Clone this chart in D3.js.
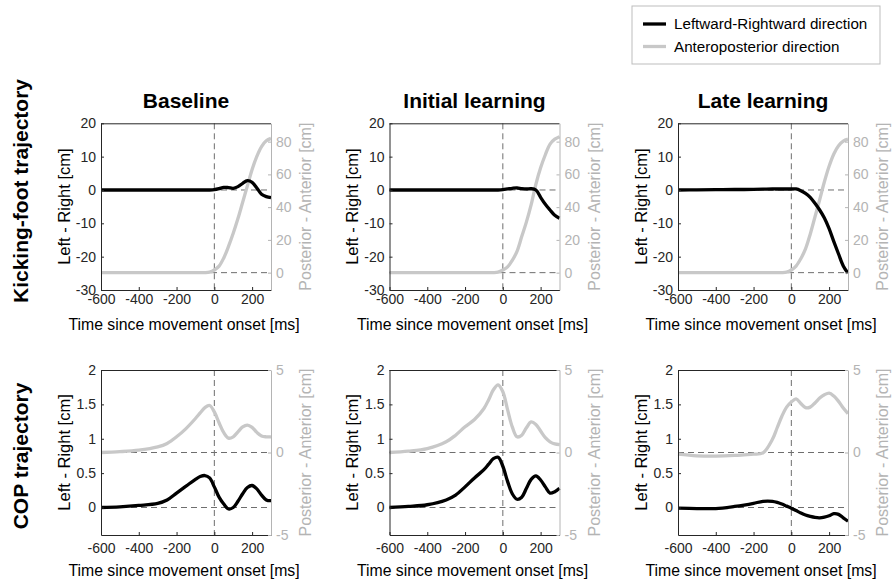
<!DOCTYPE html>
<html>
<head>
<meta charset="utf-8">
<script src="https://cdn.jsdelivr.net/npm/d3@7/dist/d3.min.js"></script>
<style>
  html, body { margin: 0; padding: 0; background: #fff; }
  svg { display: block; }
</style>
</head>
<body>
<script>
// ---- data -------------------------------------------------------------
const conditions = ["Baseline", "Initial learning", "Late learning"];
const rowLabels = ["Kicking-foot trajectory", "COP trajectory"];
const legendLabels = ["Leftward-Rightward direction", "Anteroposterior direction"];

const timeMs = [-600, -500, -400, -300, -250, -200, -150, -100, -75, -50, -25, 0,
                25, 50, 75, 100, 125, 150, 175, 200, 225, 250, 275, 300];

// Kicking foot, left-right [cm]
const kickLrBaseline = [0, 0, 0, 0, 0, 0, 0, 0, 0, 0, 0, 0.1,
                        0.4, 0.8, 0.7, 0.5, 1.0, 2.0, 2.8, 2.3, 0.6, -1.3, -2.0, -2.3];
const kickLrInitial  = [0, 0, 0, 0, 0, 0, 0, 0, 0, 0, 0, 0.1,
                        0.3, 0.5, 0.6, 0.4, 0.3, 0.4, 0.0, -2.2, -4.3, -6.0, -7.6, -8.5];
const kickLrLate     = [0, 0.05, 0.1, 0.15, 0.15, 0.2, 0.25, 0.3, 0.3, 0.3, 0.3, 0.3,
                        0.3, -0.2, -1.0, -2.2, -4.0, -6.0, -8.4, -11.6, -15.5, -19.2, -22.8, -25];
// Kicking foot, posterior-anterior [cm]
const kickApBaseline = [0, 0, 0, 0, 0, 0, 0, 0, 0, 0, 0.3, 1.6,
                        4, 9, 16, 24, 33, 43, 53, 63, 71, 77, 80.5, 82];
const kickApInitial  = [0, 0, 0, 0, 0, 0, 0, 0, 0, 0, 0.3, 1.6,
                        3.5, 7.5, 13, 22, 31, 41.5, 54, 64, 72, 78.5, 81.5, 83];
const kickApLate     = [0, 0, 0, 0, 0, 0, 0, 0, 0, 0, 0.3, 1.6,
                        4, 8.5, 14.5, 23.5, 34, 44.5, 55.5, 65, 72.5, 77.5, 80.3, 81.5];

// Centre of pressure, left-right [cm]
const copLrBaseline = [0, 0.01, 0.03, 0.06, 0.11, 0.21, 0.31, 0.41, 0.45, 0.465, 0.43, 0.3,
                       0.15, 0.05, -0.02, 0.0, 0.09, 0.2, 0.29, 0.32, 0.27, 0.18, 0.11, 0.1];
const copLrInitial  = [0, 0.015, 0.04, 0.11, 0.18, 0.3, 0.43, 0.55, 0.63, 0.71, 0.73, 0.6,
                       0.38, 0.2, 0.12, 0.15, 0.28, 0.41, 0.46, 0.4, 0.3, 0.21, 0.23, 0.28];
const copLrLate     = [-0.01, -0.015, -0.015, 0.015, 0.035, 0.06, 0.09, 0.09, 0.075, 0.05, 0.02, -0.01,
                       -0.045, -0.08, -0.11, -0.13, -0.145, -0.15, -0.14, -0.12, -0.09, -0.1, -0.15, -0.2];
// Centre of pressure, posterior-anterior [cm]
const copApBaseline = [0, 0.05, 0.14, 0.34, 0.55, 0.95, 1.45, 2.06, 2.4, 2.72, 2.85, 2.46,
                       1.8, 1.2, 0.87, 0.95, 1.25, 1.55, 1.66, 1.52, 1.22, 1.0, 0.95, 0.95];
const copApInitial  = [0, 0.08, 0.24, 0.65, 1.05, 1.56, 2.0, 2.67, 3.2, 3.8, 4.1, 3.68,
                       2.6, 1.55, 0.95, 1.05, 1.5, 1.85, 1.7, 1.3, 0.9, 0.65, 0.52, 0.48];
const copApLate     = [-0.1, -0.2, -0.22, -0.18, -0.14, -0.1, -0.02, 0.8, 1.5, 2.2, 2.75, 3.06,
                       3.25, 2.97, 2.72, 2.75, 3.0, 3.3, 3.5, 3.6, 3.42, 3.1, 2.7, 2.36];

const xTicks = [-600, -400, -200, 0, 200];
const kickLeftTicks = [-30, -20, -10, 0, 10, 20];
const kickRightTicks = [0, 20, 40, 60, 80];
const copLeftTicks = [0, 0.5, 1, 1.5, 2];
const copRightTicks = [-5, 0, 5];

// ---- layout ------------------------------------------------------------
const W = 892, H = 583;
const FONT = "'Liberation Sans', Arial, Helvetica, sans-serif";
const BLACK = "#000000", GRAY = "#c8c8c8", AXIS_R = "#b4b4b4", AXIS_L = "#262626";
const colX = [101, 389.5, 678];
const plotW = 170;

const rows = [
  { y: 123.3, h: 166.7, left: [-30, 20], right: [-10.6, 91.2],
    leftTicks: kickLeftTicks, rightTicks: kickRightTicks, xPad: 4,
    lr: [kickLrBaseline, kickLrInitial, kickLrLate],
    ap: [kickApBaseline, kickApInitial, kickApLate], labelY: 191 },
  { y: 370, h: 165, left: [-0.4, 2], right: [-5, 5],
    leftTicks: copLeftTicks, rightTicks: copRightTicks, xPad: 8,
    lr: [copLrBaseline, copLrInitial, copLrLate],
    ap: [copApBaseline, copApInitial, copApLate], labelY: 456 }
];

const svg = d3.select("body").append("svg")
  .attr("width", W).attr("height", H)
  .style("font-family", FONT);
svg.append("rect").attr("width", W).attr("height", H).attr("fill", "#fff");

const x = d3.scaleLinear().domain([-600, 300]).range([0, plotW]);

function styleAxis(g, color, size) {
  g.attr("font-family", FONT).attr("font-size", size);
  g.select(".domain").attr("stroke", color).attr("stroke-width", 1);
  g.selectAll(".tick line").attr("stroke", color);
  g.selectAll(".tick text").attr("fill", color);
}

rows.forEach((row, r) => {
  const yL = d3.scaleLinear().domain(row.left).range([row.h, 0]);
  const yR = d3.scaleLinear().domain(row.right).range([row.h, 0]);

  conditions.forEach((cond, c) => {
    const g = svg.append("g").attr("transform", `translate(${colX[c]},${row.y})`);

    // reference lines at movement onset and zero levels
    const dash = g.append("g").attr("stroke", "#6e6e6e").attr("stroke-width", 1)
      .attr("stroke-dasharray", "6,4").attr("fill", "none");
    dash.append("line").attr("x1", x(0)).attr("x2", x(0)).attr("y1", 0).attr("y2", row.h);
    dash.append("line").attr("x1", 0).attr("x2", plotW).attr("y1", yL(0)).attr("y2", yL(0));
    dash.append("line").attr("x1", 0).attr("x2", plotW).attr("y1", yR(0)).attr("y2", yR(0));

    const ap = timeMs.map((t, i) => [t, row.ap[c][i]]);
    const lr = timeMs.map((t, i) => [t, row.lr[c][i]]);

    g.append("path").datum(ap)
      .attr("fill", "none").attr("stroke", GRAY).attr("stroke-width", 3.3)
      .attr("stroke-linejoin", "round")
      .attr("d", d3.line().x(d => x(d[0])).y(d => yR(d[1])).curve(d3.curveCatmullRom.alpha(0.5)));
    g.append("path").datum(lr)
      .attr("fill", "none").attr("stroke", BLACK).attr("stroke-width", 3.3)
      .attr("stroke-linejoin", "round")
      .attr("d", d3.line().x(d => x(d[0])).y(d => yL(d[1])).curve(d3.curveCatmullRom.alpha(0.5)));

    // box top
    g.append("line").attr("x1", 0).attr("x2", plotW).attr("y1", 0.5).attr("y2", 0.5)
      .attr("stroke", AXIS_L).attr("stroke-width", 1);

    const fmt = d => String(d);
    g.append("g").attr("transform", `translate(0,${row.h})`)
      .call(d3.axisBottom(x).tickValues(xTicks).tickFormat(fmt).tickSize(-3).tickSizeOuter(0).tickPadding(row.xPad))
      .call(a => styleAxis(a, AXIS_L, 14));
    g.append("g")
      .call(d3.axisLeft(yL).tickValues(row.leftTicks).tickFormat(fmt).tickSize(-3).tickSizeOuter(0).tickPadding(5))
      .call(a => styleAxis(a, AXIS_L, 14));
    g.append("g").attr("transform", `translate(${plotW},0)`)
      .call(d3.axisRight(yR).tickValues(row.rightTicks).tickFormat(fmt).tickSize(-3).tickSizeOuter(0).tickPadding(5))
      .call(a => styleAxis(a, AXIS_R, 14));

    // axis titles
    g.append("text")
      .attr("x", plotW / 2 - 2).attr("y", row.h + 40.5)
      .attr("text-anchor", "middle").attr("font-size", 15.8).attr("fill", BLACK)
      .text("Time since movement onset [ms]");
    g.append("text")
      .attr("transform", `translate(-37,${row.h / 2}) rotate(-90)`)
      .attr("text-anchor", "middle").attr("dy", "0.35em")
      .attr("font-size", 16.5).attr("fill", BLACK)
      .text("Left - Right [cm]");
    g.append("text")
      .attr("transform", `translate(${plotW + 34.5},${row.h / 2}) rotate(-90)`)
      .attr("text-anchor", "middle").attr("dy", "0.35em")
      .attr("font-size", 16).attr("fill", AXIS_R)
      .text("Posterior - Anterior [cm]");

    if (r === 0) {
      g.append("text")
        .attr("x", plotW / 2).attr("y", 107.5 - row.y)
        .attr("text-anchor", "middle").attr("font-size", 21).attr("font-weight", "bold")
        .text(cond);
    }
  });

  svg.append("text")
    .attr("transform", `translate(21,${row.labelY}) rotate(-90)`)
    .attr("text-anchor", "middle").attr("dy", "0.35em")
    .attr("font-size", 21).attr("font-weight", "bold")
    .text(rowLabels[r]);
});

// ---- legend ------------------------------------------------------------
const leg = svg.append("g").attr("transform", "translate(632,6)");
leg.append("rect").attr("x", 0).attr("y", 0).attr("width", 248).attr("height", 58)
  .attr("fill", "#fff").attr("stroke", "#bdbdbd").attr("stroke-width", 1);
[BLACK, GRAY].forEach((col, i) => {
  const yy = 18 + i * 22.5;
  leg.append("line").attr("x1", 11).attr("x2", 34).attr("y1", yy).attr("y2", yy)
    .attr("stroke", col).attr("stroke-width", 3.3);
  leg.append("text").attr("x", 42).attr("y", yy).attr("dy", "0.35em")
    .attr("font-size", 15.2).attr("fill", BLACK).text(legendLabels[i]);
});
</script>
</body>
</html>
